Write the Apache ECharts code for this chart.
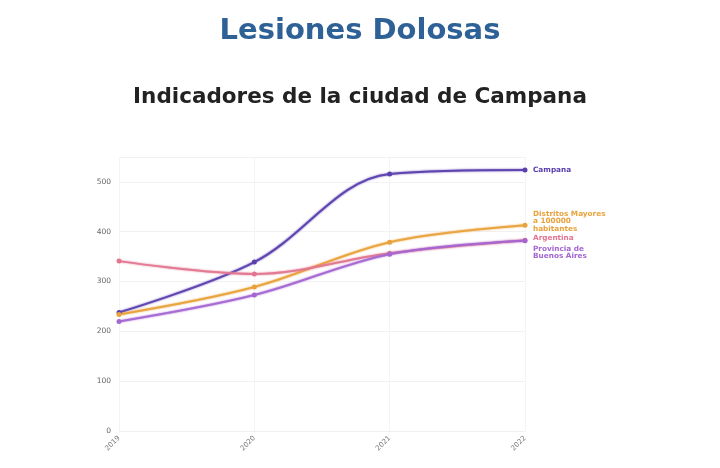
<!DOCTYPE html>
<html>
<head>
<meta charset="utf-8">
<script src="https://cdn.jsdelivr.net/npm/echarts@6/dist/echarts.min.js"></script>
<style>
  html, body { margin: 0; padding: 0; background: #fff; }
  #chart { width: 720px; height: 468px; }
</style>
</head>
<body>
<div id="chart"></div>
<script>
// datos
var years = ['2019', '2020', '2021', '2022'];
var campana = [238, 339, 516, 524];
var distritos = [234, 289, 379, 413];
var argentina = [341, 315, 357, 383];
var provincia = [220, 273, 355, 382];
var yTicks = [0, 100, 200, 300, 400, 500];

var chart = echarts.init(document.getElementById('chart'));

function serie(name, label, data, color, off) {
    return {
        name: name,
        type: 'line',
        data: data,
        smooth: 0.35,
        symbol: 'circle',
        symbolSize: 5,
        lineStyle: { width: 2, color: color, shadowColor: color, shadowBlur: 2, opacity: 0.9 },
        itemStyle: { color: color },
        endLabel: {
            show: true,
            formatter: label,
            color: color,
            fontSize: 7.3,
            lineHeight: 7.6,
            fontWeight: 'bold',
            fontFamily: 'DejaVu Sans',
            distance: 8,
            offset: off
        }
    };
}

var option = {
    animation: false,
    title: [
        {
            text: 'Lesiones Dolosas',
            left: 'center',
            top: 12,
            textStyle: { fontFamily: 'DejaVu Sans', fontSize: 29, fontWeight: 'bold', color: '#2e6196' }
        },
        {
            text: 'Indicadores de la ciudad de Campana',
            left: 'center',
            top: 81,
            textStyle: { fontFamily: 'DejaVu Sans', fontSize: 21.5, fontWeight: 'bold', color: '#222' }
        }
    ],
    grid: { left: 119, right: 195, top: 157, bottom: 37 },
    xAxis: {
        type: 'category',
        data: years,
        boundaryGap: false,
        axisLine: { show: true, lineStyle: { color: '#f0f0f0' } },
        axisTick: { show: false },
        axisLabel: { rotate: 45, fontSize: 7, color: '#777', fontFamily: 'DejaVu Sans', margin: 6 },
        splitLine: { show: true, lineStyle: { color: '#f4f4f4' } }
    },
    yAxis: {
        type: 'value',
        min: 0,
        max: 550,
        interval: 100,
        axisLine: { show: false },
        axisTick: { show: false },
        axisLabel: {
            fontSize: 7.5, color: '#666', fontFamily: 'DejaVu Sans', margin: 8,
            formatter: function (v) { return yTicks.indexOf(v) >= 0 ? v : ''; }
        },
        splitLine: { lineStyle: { color: '#f2f2f2' } }
    },
    series: [
        serie('Campana', 'Campana', campana, '#5a3fae', [0, 0]),
        serie('Distritos', 'Distritos Mayores\na 100000\nhabitantes', distritos, '#e9a23b', [0, -4]),
        serie('Argentina', 'Argentina', argentina, '#e27590', [0, -2]),
        serie('Provincia', 'Provincia de\nBuenos Aires', provincia, '#a466d2', [0, 12])
    ]
};

chart.setOption(option);
</script>
</body>
</html>
